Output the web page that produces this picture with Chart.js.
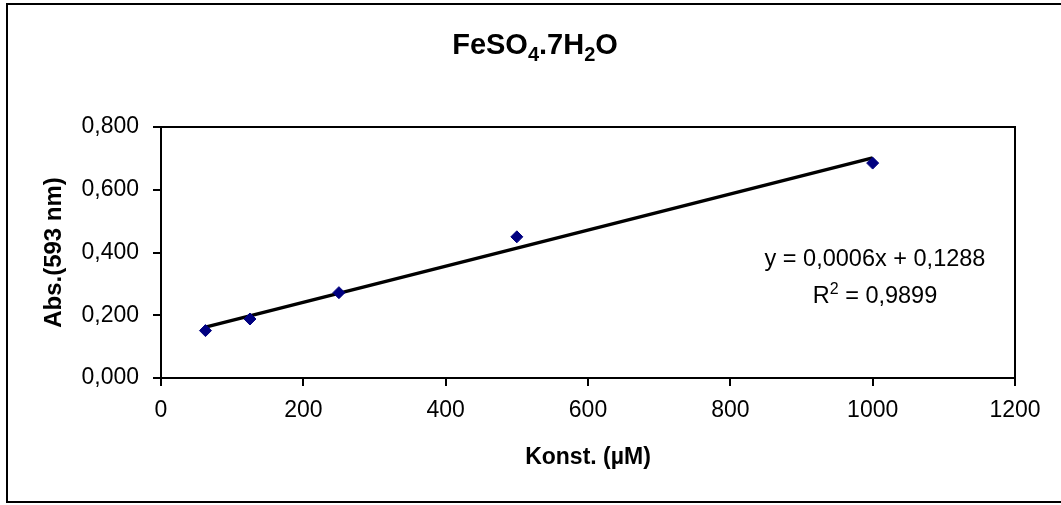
<!DOCTYPE html>
<html>
<head>
<meta charset="utf-8">
<script src="https://cdn.jsdelivr.net/npm/chart.js"></script>
<style>
  html, body { margin: 0; padding: 0; background: #ffffff; }
  #wrap { width: 1061px; height: 505px; }
</style>
</head>
<body>
<div id="wrap"><canvas id="chart" width="1061" height="505"></canvas></div>
<script>
// FeSO4.7H2O calibration curve

const concentrations = [62.5, 125, 250, 500, 1000];
const absorbance = [0.151, 0.188, 0.272, 0.450, 0.685];
const xTicks = [0, 200, 400, 600, 800, 1000, 1200];
const yTicks = [0, 0.2, 0.4, 0.6, 0.8];
const equationText = 'y = 0,0006x + 0,1288';
const r2Value = '0,9899';

const FONT = '"Liberation Sans", Arial, sans-serif';

// least squares line through the measured points
function linearFit(xs, ys) {
    const n = xs.length;
    const mx = xs.reduce((a, b) => a + b, 0) / n;
    const my = ys.reduce((a, b) => a + b, 0) / n;
    let sxy = 0, sxx = 0;
    for (let i = 0; i < n; i++) {
        sxy += (xs[i] - mx) * (ys[i] - my);
        sxx += (xs[i] - mx) * (xs[i] - mx);
    }
    const slope = sxy / sxx;
    return { slope: slope, intercept: my - slope * mx };
}

const fit = linearFit(concentrations, absorbance);
const xMin = Math.min(...concentrations);
const xMax = Math.max(...concentrations);

// draw text pieces with sub/superscripts, centred on cx
function drawRich(ctx, parts, cx, cy, size, weight) {
    const small = Math.round(size * 0.7);
    let total = 0;
    parts.forEach(p => {
        ctx.font = `${weight} ${p[1] === 'n' ? size : small}px ${FONT}`;
        total += ctx.measureText(p[0]).width;
    });
    let x = cx - total / 2;
    ctx.textAlign = 'left';
    ctx.textBaseline = 'alphabetic';
    const base = cy + size * 0.36;
    parts.forEach(p => {
        ctx.font = `${weight} ${p[1] === 'n' ? size : small}px ${FONT}`;
        let y = base;
        if (p[1] === 'sub') y = base + size * 0.22;
        if (p[1] === 'sup') y = base - size * 0.4;
        ctx.fillText(p[0], x, y);
        x += ctx.measureText(p[0]).width;
    });
}

const decorations = {
    id: 'decorations',
    beforeDraw(chart) {
        const ctx = chart.ctx;
        ctx.save();
        ctx.fillStyle = '#ffffff';
        ctx.fillRect(0, 0, chart.width, chart.height);
        ctx.strokeStyle = '#000000';
        ctx.lineWidth = 2;
        ctx.strokeRect(7, 4, chart.width + 10, 498);
        ctx.restore();
    },
    afterDraw(chart) {
        const ctx = chart.ctx;
        const a = chart.chartArea;
        ctx.save();
        ctx.strokeStyle = '#000000';
        ctx.lineWidth = 2;
        ctx.strokeRect(a.left, a.top, a.right - a.left, a.bottom - a.top);
        ctx.fillStyle = '#000000';
        drawRich(ctx, [['FeSO', 'n'], ['4', 'sub'], ['.7H', 'n'], ['2', 'sub'], ['O', 'n']], 535, 44, 29, 'bold');
        drawRich(ctx, [[equationText, 'n']], 875, 258, 23.5, 'normal');
        drawRich(ctx, [['R', 'n'], ['2', 'sup'], [' = ' + r2Value, 'n']], 875, 295, 23.5, 'normal');
        ctx.restore();
    }
};

new Chart(document.getElementById('chart'), {
    type: 'scatter',
    data: {
        datasets: [
            {
                label: 'Abs',
                data: concentrations.map((x, i) => ({ x: x, y: absorbance[i] })),
                pointStyle: 'rectRot',
                pointRadius: 6,
                pointHoverRadius: 6,
                backgroundColor: '#000080',
                borderColor: '#000080',
                borderWidth: 1,
                order: 1
            },
            {
                label: 'Trend',
                type: 'line',
                data: [xMin, xMax].map(x => ({ x: x, y: fit.slope * x + fit.intercept })),
                borderColor: '#000000',
                borderWidth: 3.5,
                pointRadius: 0,
                fill: false,
                order: 2
            }
        ]
    },
    options: {
        responsive: false,
        devicePixelRatio: 1,
        animation: false,
        layout: {
            padding: { top: 127, right: 46, left: 0, bottom: 0 }
        },
        plugins: {
            legend: { display: false },
            tooltip: { enabled: false },
            title: { display: false }
        },
        scales: {
            x: {
                type: 'linear',
                min: 0,
                max: 1200,
                afterBuildTicks: (scale) => { scale.ticks = xTicks.map(v => ({ value: v })); },
                afterFit: (scale) => { scale.height = 127; },
                border: { color: '#000000', width: 2 },
                grid: { drawOnChartArea: false, drawTicks: true, tickLength: 8, color: '#000000', lineWidth: 2 },
                ticks: {
                    color: '#000000',
                    font: { family: FONT, size: 23 },
                    padding: 11,
                    maxRotation: 0,
                    callback: (v) => String(v)
                },
                title: {
                    display: true,
                    text: 'Konst. (µM)',
                    color: '#000000',
                    font: { family: FONT, size: 23, weight: 'bold' },
                    padding: { top: 0, bottom: 34 }
                }
            },
            y: {
                type: 'linear',
                min: 0,
                max: 0.8,
                afterBuildTicks: (scale) => { scale.ticks = yTicks.map(v => ({ value: v })); },
                afterFit: (scale) => { scale.width = 161; },
                border: { color: '#000000', width: 2 },
                grid: { drawOnChartArea: false, drawTicks: true, tickLength: 8, color: '#000000', lineWidth: 2 },
                ticks: {
                    color: '#000000',
                    font: { family: FONT, size: 23 },
                    padding: 14,
                    callback: (v) => v.toFixed(3).replace('.', ',')
                },
                title: {
                    display: true,
                    text: 'Abs.(593 nm)',
                    color: '#000000',
                    font: { family: FONT, size: 24, weight: 'bold' },
                    padding: { top: 40, bottom: 0 }
                }
            }
        }
    },
    plugins: [decorations]
});
</script>
</body>
</html>
